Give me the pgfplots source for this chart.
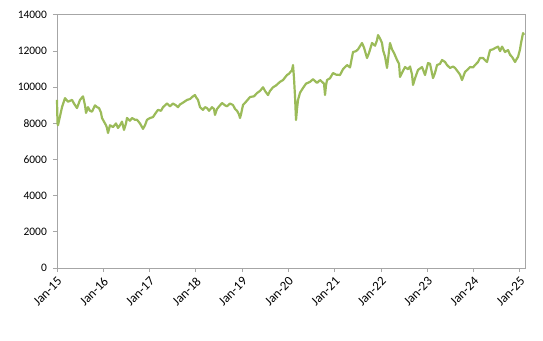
\documentclass[border=0pt]{standalone}
\usepackage{pgfplots}
\pgfplotsset{compat=1.18}
\usepackage{fontspec}
\setmainfont{Carlito}
\definecolor{linegreen}{HTML}{9BBB59}
\definecolor{axgray}{HTML}{A6A6A6}
\pgfplotstableread{
m v
0 9300
0.13 8000
0.26 7900
0.78 8400
1.30 8900
2.07 9400
2.85 9200
3.89 9300
4.41 9100
5.18 8850
5.96 9300
6.74 9500
7.26 9000
7.52 8580
8.04 8900
8.55 8700
9.07 8650
9.85 9000
10.37 8900
10.89 8850
11.40 8600
11.66 8300
12.18 8100
12.70 7900
12.96 7750
13.22 7470
13.74 7900
14.52 7800
15.29 8000
15.81 7750
16.33 7900
16.85 8100
17.37 7640
17.88 8000
18.14 8300
18.92 8150
19.44 8300
20.22 8200
20.74 8200
21.51 8000
22.03 7800
22.29 7700
22.81 7900
23.33 8200
24.11 8300
24.88 8350
25.66 8600
26.18 8750
26.96 8700
27.48 8900
28.00 9000
28.51 9100
29.29 8950
30.07 9100
30.84 9000
31.36 8900
31.88 9050
32.66 9150
33.70 9300
34.47 9350
35.25 9500
35.77 9570
36.03 9450
36.55 9300
37.07 8900
37.58 8800
37.84 8750
38.36 8900
38.88 8850
39.40 8700
40.18 8900
40.69 8800
40.95 8470
41.47 8800
42.25 9000
42.77 9130
43.55 9000
44.06 8950
44.84 9100
45.62 9020
46.14 8800
46.66 8700
47.17 8500
47.43 8300
47.69 8500
48.21 9020
48.99 9200
50.02 9460
51.06 9500
51.84 9680
52.62 9800
53.40 10000
53.91 9800
54.69 9570
55.21 9800
55.99 10000
56.76 10100
57.80 10300
58.58 10400
59.62 10680
60.13 10750
60.91 10950
61.17 11230
61.43 10500
61.69 9500
61.95 8190
62.21 8800
62.47 9300
62.99 9700
63.76 9960
64.54 10200
65.58 10300
66.36 10450
67.39 10240
68.17 10400
68.69 10300
69.21 10200
69.47 9570
69.72 10100
69.98 10400
70.76 10500
71.54 10790
72.32 10700
73.35 10680
74.13 11000
75.17 11230
75.95 11100
76.72 11950
77.50 12000
78.02 12100
79.06 12450
79.57 12200
80.35 11620
80.87 11900
81.65 12450
82.43 12300
82.94 12600
83.20 12890
83.72 12700
84.24 12450
84.50 12060
85.02 11700
85.54 11070
86.05 12000
86.31 12450
86.83 12100
87.35 11900
88.13 11510
88.65 11300
88.91 10570
89.42 10800
90.20 11120
90.98 11000
91.50 11150
92.02 10700
92.28 10130
92.80 10500
93.57 10960
94.61 11120
95.39 10680
96.17 11340
96.68 11300
97.46 10510
97.98 10800
98.50 11230
99.28 11300
99.79 11510
100.57 11400
101.09 11230
101.87 11070
102.65 11150
103.16 11070
103.94 10850
104.46 10700
104.98 10400
105.75 10850
106.53 11000
107.05 11120
107.83 11100
108.35 11230
109.12 11400
109.64 11620
110.42 11620
110.94 11500
111.46 11400
112.24 12060
113.01 12100
113.53 12170
114.31 12250
114.83 12000
115.35 12250
116.12 11950
116.90 12060
117.42 11800
117.94 11680
118.72 11400
119.23 11600
119.49 11680
120.01 12100
120.27 12450
120.79 13000
121.05 12900
}\datatable
\begin{document}
\begin{tikzpicture}
\begin{axis}[
  scale only axis,
  width=468bp, height=253bp,
  xmin=0, xmax=121.3,
  ymin=0, ymax=14000,
  xtick={0,12,...,120},
  xticklabels={Jan-15,Jan-16,Jan-17,Jan-18,Jan-19,Jan-20,Jan-21,Jan-22,Jan-23,Jan-24,Jan-25},
  ytick={0,2000,...,14000},
  scaled y ticks=false,
  x tick label style={rotate=45, anchor=east, font=\fontsize{13}{15}\selectfont, inner sep=0pt, xshift=4bp},
  xticklabel shift=10bp,
  y tick label style={font=\fontsize{11.5}{13}\selectfont, inner sep=2pt, xshift=-4bp},
  /pgf/number format/assume math mode=true,
  yticklabel={\pgfmathprintnumber[fixed,precision=0,1000 sep={}]{\tick}},
  tick align=outside,
  xtick pos=bottom, ytick pos=left,
  major tick length=4bp,
  axis line style={axgray, line width=1pt},
  tick style={axgray, line width=1pt},
  clip=false,
]
\addplot[linegreen, line width=2.2pt, line join=round] table[x=m, y=v] {\datatable};
\end{axis}
\path (current axis.south west) ++(-57bp,-73bp) coordinate (bl);
\path (current axis.north east) ++(18bp,15bp) coordinate (tr);
\path (bl) rectangle (tr);
\end{tikzpicture}
\end{document}
